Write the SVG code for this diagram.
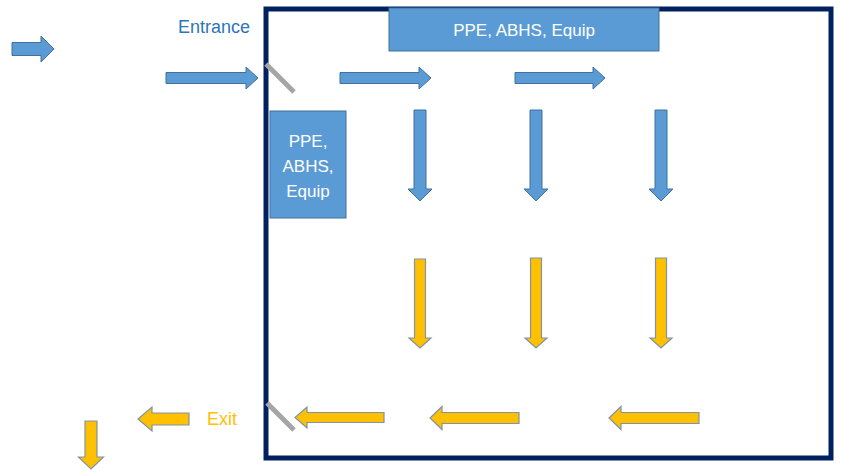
<svg xmlns="http://www.w3.org/2000/svg" width="841" height="470" viewBox="0 0 841 470">
<style>
.room{fill:none;stroke:#002060;stroke-width:5}
.box{fill:#5B9BD5;stroke:#41719C;stroke-width:1}
.bt{fill:#fff;font-family:"Liberation Sans",Arial,sans-serif;font-size:17px;text-anchor:middle}
.ba{fill:#5B9BD5;stroke:#41719C;stroke-width:1}
.ya{fill:#FFC000;stroke:#7F93AA;stroke-width:1.2}
.door{stroke:#A5A5A5;stroke-width:5}
.lbl{font-family:"Liberation Sans",Arial,sans-serif;font-size:18px}
</style>
<rect width="841" height="470" fill="#fff"/>
<g id="room"><rect class="room" x="266" y="9" width="565" height="449"/></g>
<g id="doors">
<line class="door" x1="266" y1="64" x2="294" y2="92"/>
<line class="door" x1="267" y1="403" x2="294" y2="430"/>
</g>
<g id="supply-top"><rect class="box" x="389" y="8" width="270" height="43"/><text class="bt" x="524" y="36">PPE, ABHS, Equip</text></g>
<g id="supply-left"><rect class="box" x="270" y="111" width="76" height="107"/>
<text class="bt" x="308" y="147">PPE,</text><text class="bt" x="308" y="172">ABHS,</text><text class="bt" x="308" y="197">Equip</text></g>
<g id="label-entrance"><text class="lbl" x="214" y="33" fill="#2E75B6" text-anchor="middle">Entrance</text></g>
<g id="label-exit"><text class="lbl" x="222" y="425" fill="#FFC000" text-anchor="middle">Exit</text></g>
<g id="connectors">
<path class="ba" d="M12 42.5H41V36L54 49L41 62V55.5H12Z"/>
<path class="ba" d="M166 72.5H246V67L258 78L246 89V83.5H166Z"/>
<path class="ba" d="M340 72.5H419V67L431 78L419 89V83.5H340Z"/>
<path class="ba" d="M515 72.5H593V67L605 78L593 89V83.5H515Z"/>
<path class="ba" d="M414 110V189H408L420 201L432 189H426V110Z"/>
<path class="ba" d="M530 110V189H524L536 201L548 189H542V110Z"/>
<path class="ba" d="M655 110V189H649L661 201L673 189H667V110Z"/>
<path class="ya" d="M414.5 259V338H409L420 348L431 338H425.5V259Z"/>
<path class="ya" d="M530.5 258V338H525L536 348L547 338H541.5V258Z"/>
<path class="ya" d="M655.5 258V338H650L661 348L672 338H666.5V258Z"/>
<path class="ya" d="M699 412.5H621V406.5L609 418L621 429.5V423.5H699Z"/>
<path class="ya" d="M519 412.5H442V406.5L430 418L442 429.5V423.5H519Z"/>
<path class="ya" d="M384 412.5H307V407L295 417.5L307 428V422.5H384Z"/>
<path class="ya" d="M189 413H152V407L138 419L152 431V425H189Z"/>
<path class="ya" d="M85 421V457H78.5L91 469L103.5 457H97V421Z"/>
</g>
</svg>
